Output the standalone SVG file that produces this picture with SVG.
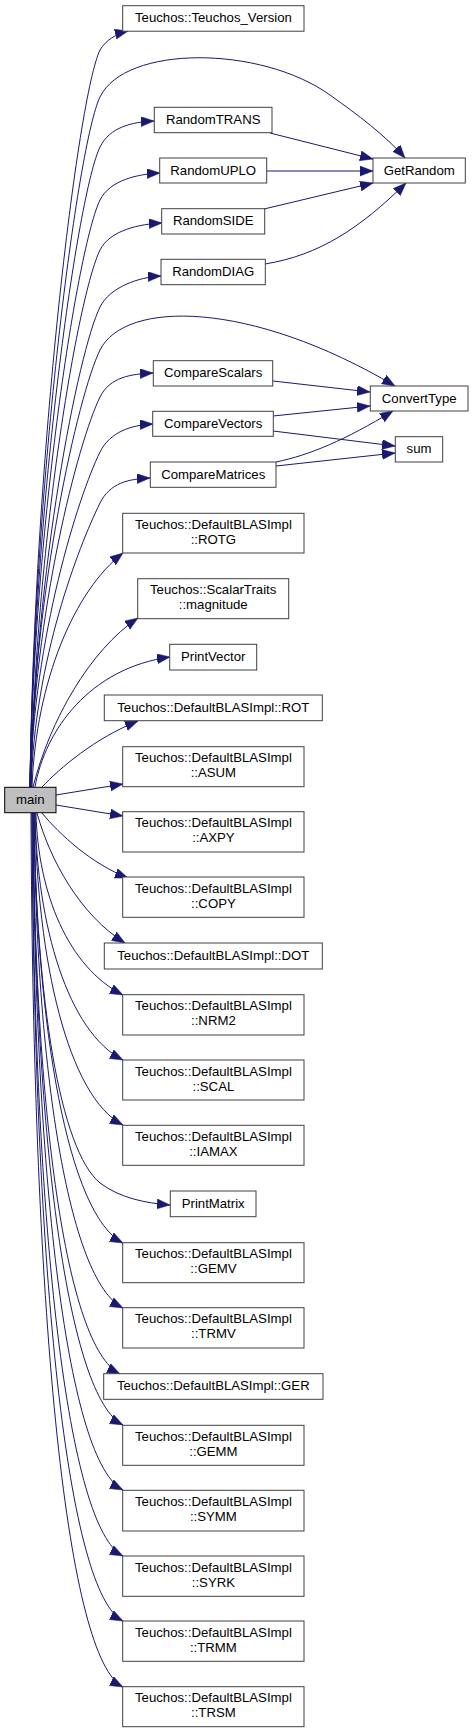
<svg xmlns="http://www.w3.org/2000/svg" width="473" height="1733" viewBox="0 0 473 1733">
<style>
.n rect{fill:#ffffff;stroke:#404040;stroke-width:1}
.n.m rect{fill:#bfbfbf;stroke:#000000}
.n text{font-family:"Liberation Sans",Arial,Helvetica,sans-serif;font-size:13.2px;fill:#000000;text-anchor:middle}
#edges path{fill:none;stroke:#191970;stroke-width:1;marker-end:url(#arr)}
</style>
<defs>
<marker id="arr" markerUnits="userSpaceOnUse" markerWidth="14" markerHeight="11" refX="13" refY="5" orient="auto">
<path d="M0,0 L13,5 L0,10 z" fill="#191970" stroke="#191970" stroke-width="0.5"/>
</marker>
</defs>
<rect width="473" height="1733" fill="#ffffff"/>
<g id="edges">
<path d="M30,787 C34,455 78,95 100,50 C106,40 116,34 128,31"/>
<path d="M30,787 C34,476 78,142 100,97 C125,45 260,45 330,95 C358,115 385,135 405,158"/>
<path d="M30,787 C34,499 78,192 100,147 C110,127 132,122 154,121"/>
<path d="M30,787 C34,523 78,245 100,200 C110,180 138,174 160,173"/>
<path d="M31,787 C35,545 78,295 100,250 C110,230 140,224 162,223"/>
<path d="M31,787 C35,571 78,352 100,307 C110,287 139,277 161,276"/>
<path d="M30,787 C34,590 78,395 100,350 C125,300 250,300 395,386"/>
<path d="M30,787 C34,611 78,442 100,397 C110,377 131,374 153,373"/>
<path d="M30,787 C34,636 78,497 100,452 C110,432 131,425 153,424"/>
<path d="M31,787 C35,659 78,548 100,503 C110,483 128,479 150,478"/>
<path d="M32,787 C36,680 75,590 123,553"/>
<path d="M33,787 C50,720 90,650 138,618"/>
<path d="M35,787 C45,730 90,668 170,657"/>
<path d="M42,787 C60,768 95,738 138,721"/>
<path d="M56,795 L123,784"/>
<path d="M56,805 L123,816"/>
<path d="M42,813 C60,835 92,864 128,878"/>
<path d="M37,813 C50,860 80,915 125,943"/>
<path d="M36,813 C38,893 68,967 123,995"/>
<path d="M35,813 C37,926 68,1032 123,1060"/>
<path d="M35,813 C37,960 68,1097 123,1125"/>
<path d="M34,813 C36,1000 60,1150 100,1183 C120,1198 145,1203 170,1205"/>
<path d="M34,813 C36,1027 68,1215 123,1243"/>
<path d="M34,813 C36,1067 68,1280 123,1308"/>
<path d="M33,813 C35,1109 65,1346 120,1374"/>
<path d="M33,813 C35,1143 68,1397 123,1425"/>
<path d="M33,813 C35,1189 68,1462 123,1490"/>
<path d="M32,813 C34,1237 68,1528 123,1556"/>
<path d="M32,813 C34,1286 68,1593 123,1621"/>
<path d="M31,813 C33,1337 68,1659 123,1687"/>
<path d="M270,133 L373,159"/>
<path d="M267,171 L373,171"/>
<path d="M264,209 L373,183"/>
<path d="M265,264 C320,255 360,228 406,183"/>
<path d="M273,381 L370,392"/>
<path d="M273,416 L370,406"/>
<path d="M273,431 L395,446"/>
<path d="M276,462 C310,455 345,440 393,411"/>
<path d="M276,466 L395,453"/>
</g>
<g id="node_tv" class="n"><rect x="122.7" y="5.7" width="181.3" height="25.5"/><text x="213.4" y="22.4">Teuchos::Teuchos_Version</text></g>
<g id="node_randomtrans" class="n"><rect x="154.3" y="107.3" width="117.7" height="25.4"/><text x="213.2" y="124">RandomTRANS</text></g>
<g id="node_getrandom" class="n"><rect x="373" y="158" width="92.3" height="25"/><text x="419.2" y="174.7">GetRandom</text></g>
<g id="node_randomuplo" class="n"><rect x="159.7" y="158" width="107" height="25"/><text x="213.2" y="174.7">RandomUPLO</text></g>
<g id="node_randomside" class="n"><rect x="161.7" y="208.7" width="103" height="25.3"/><text x="213.2" y="225.4">RandomSIDE</text></g>
<g id="node_randomdiag" class="n"><rect x="161" y="259.3" width="104.3" height="25.4"/><text x="213.2" y="276">RandomDIAG</text></g>
<g id="node_comparescalars" class="n"><rect x="153.3" y="360.7" width="119.4" height="25.3"/><text x="213.2" y="377.4">CompareScalars</text></g>
<g id="node_converttype" class="n"><rect x="370.3" y="386" width="97.7" height="25"/><text x="419.2" y="402.7">ConvertType</text></g>
<g id="node_comparevectors" class="n"><rect x="152.7" y="411.3" width="120.6" height="25"/><text x="213.2" y="428">CompareVectors</text></g>
<g id="node_sum" class="n"><rect x="395.3" y="436.7" width="47.4" height="25.3"/><text x="419" y="453.4">sum</text></g>
<g id="node_comparematrices" class="n"><rect x="150.3" y="462" width="125.7" height="25.3"/><text x="213.2" y="478.7">CompareMatrices</text></g>
<g id="node_rotg" class="n"><rect x="122.7" y="513.3" width="181.3" height="39.7"/><text x="213.4" y="528.8">Teuchos::DefaultBLASImpl</text><text x="213.4" y="543.8">::ROTG</text></g>
<g id="node_magnitude" class="n"><rect x="137.7" y="578.7" width="151" height="40"/><text x="213.2" y="594.2">Teuchos::ScalarTraits</text><text x="213.2" y="609.2">::magnitude</text></g>
<g id="node_printvector" class="n"><rect x="169.7" y="644.3" width="87" height="25.7"/><text x="213.2" y="661">PrintVector</text></g>
<g id="node_rot" class="n"><rect x="104.3" y="695" width="218" height="25.7"/><text x="213.3" y="711.7">Teuchos::DefaultBLASImpl::ROT</text></g>
<g id="node_asum" class="n"><rect x="122.7" y="746.7" width="181.3" height="40"/><text x="213.4" y="762.2">Teuchos::DefaultBLASImpl</text><text x="213.4" y="777.2">::ASUM</text></g>
<g id="node_main" class="n m"><rect x="4.7" y="787.3" width="51.3" height="25.4"/><text x="30.3" y="804">main</text></g>
<g id="node_axpy" class="n"><rect x="122.7" y="811.7" width="181.3" height="40.3"/><text x="213.4" y="827.2">Teuchos::DefaultBLASImpl</text><text x="213.4" y="842.2">::AXPY</text></g>
<g id="node_copy" class="n"><rect x="122.7" y="877" width="181.3" height="40.3"/><text x="213.4" y="892.5">Teuchos::DefaultBLASImpl</text><text x="213.4" y="907.5">::COPY</text></g>
<g id="node_dot" class="n"><rect x="104.3" y="943" width="218" height="26"/><text x="213.3" y="959.7">Teuchos::DefaultBLASImpl::DOT</text></g>
<g id="node_nrm2" class="n"><rect x="122.7" y="994.7" width="181.3" height="40.3"/><text x="213.4" y="1010.2">Teuchos::DefaultBLASImpl</text><text x="213.4" y="1025.2">::NRM2</text></g>
<g id="node_scal" class="n"><rect x="122.7" y="1060" width="181.3" height="40"/><text x="213.4" y="1075.5">Teuchos::DefaultBLASImpl</text><text x="213.4" y="1090.5">::SCAL</text></g>
<g id="node_iamax" class="n"><rect x="122.7" y="1125.3" width="181.3" height="40"/><text x="213.4" y="1140.8">Teuchos::DefaultBLASImpl</text><text x="213.4" y="1155.8">::IAMAX</text></g>
<g id="node_printmatrix" class="n"><rect x="170.3" y="1191" width="85.7" height="25.7"/><text x="213.2" y="1207.7">PrintMatrix</text></g>
<g id="node_gemv" class="n"><rect x="122.7" y="1242.7" width="181.3" height="40"/><text x="213.4" y="1258.2">Teuchos::DefaultBLASImpl</text><text x="213.4" y="1273.2">::GEMV</text></g>
<g id="node_trmv" class="n"><rect x="122.7" y="1307.7" width="181.3" height="40.3"/><text x="213.4" y="1323.2">Teuchos::DefaultBLASImpl</text><text x="213.4" y="1338.2">::TRMV</text></g>
<g id="node_ger" class="n"><rect x="103.7" y="1373.7" width="219.3" height="25.6"/><text x="213.3" y="1390.4">Teuchos::DefaultBLASImpl::GER</text></g>
<g id="node_gemm" class="n"><rect x="122.7" y="1425.3" width="181.3" height="40"/><text x="213.4" y="1440.8">Teuchos::DefaultBLASImpl</text><text x="213.4" y="1455.8">::GEMM</text></g>
<g id="node_symm" class="n"><rect x="122.7" y="1490.3" width="181.3" height="40.7"/><text x="213.4" y="1505.8">Teuchos::DefaultBLASImpl</text><text x="213.4" y="1520.8">::SYMM</text></g>
<g id="node_syrk" class="n"><rect x="122.7" y="1556" width="181.3" height="40.3"/><text x="213.4" y="1571.5">Teuchos::DefaultBLASImpl</text><text x="213.4" y="1586.5">::SYRK</text></g>
<g id="node_trmm" class="n"><rect x="122.7" y="1621" width="181.3" height="40.3"/><text x="213.4" y="1636.5">Teuchos::DefaultBLASImpl</text><text x="213.4" y="1651.5">::TRMM</text></g>
<g id="node_trsm" class="n"><rect x="122.7" y="1686.7" width="181.3" height="40"/><text x="213.4" y="1702.2">Teuchos::DefaultBLASImpl</text><text x="213.4" y="1717.2">::TRSM</text></g>
</svg>
